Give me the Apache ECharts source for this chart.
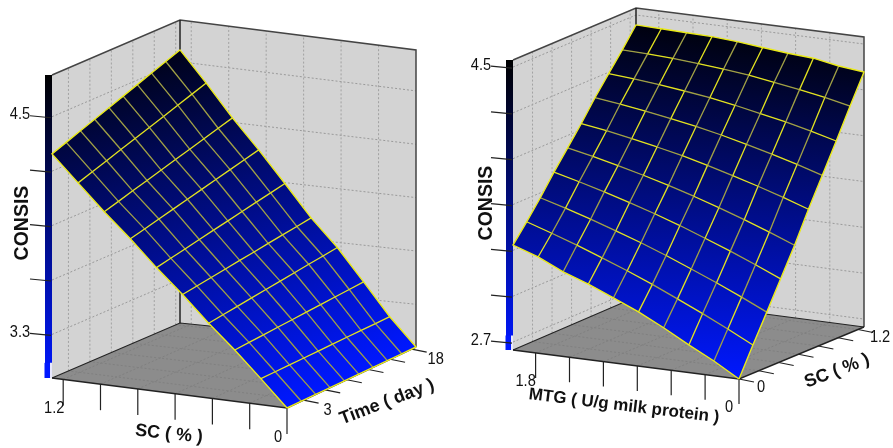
<!DOCTYPE html>
<html>
<head>
<meta charset="utf-8">
<style>html,body{margin:0;padding:0;background:#fff}#c{width:893px;height:448px}</style>
<script src="https://cdn.jsdelivr.net/npm/echarts@6/dist/echarts.min.js"></script>
</head>
<body>
<div id="c"></div>
<script>
// ---- data ----
const scGrid   = [0,0.14,0.28,0.42,0.56,0.70,0.84,0.98,1.12,1.26];
const timeGrid = [0.7,2.69,4.68,6.67,8.66,10.65,12.63,14.62,16.61,18.6];
const mtgGrid  = [0,0.222,0.444,0.667,0.889,1.111,1.333,1.556,1.778,2.0];

// CONSIS, left panel: one row per SC grid value, one column per Time grid value
const consisLeft = [
 [3.06,3.06,3.06,3.06,3.06,3.06,3.06,3.06,3.06,3.06],
 [3.205,3.206,3.207,3.208,3.209,3.211,3.212,3.213,3.214,3.215],
 [3.345,3.351,3.356,3.362,3.367,3.373,3.378,3.384,3.389,3.395],
 [3.475,3.486,3.496,3.507,3.518,3.528,3.539,3.55,3.56,3.571],
 [3.615,3.627,3.638,3.65,3.662,3.673,3.685,3.697,3.708,3.72],
 [3.745,3.762,3.778,3.795,3.812,3.828,3.845,3.862,3.878,3.895],
 [3.885,3.905,3.925,3.945,3.965,3.985,4.005,4.025,4.045,4.065],
 [4.015,4.038,4.062,4.085,4.108,4.132,4.155,4.178,4.202,4.225],
 [4.155,4.182,4.209,4.237,4.264,4.291,4.318,4.346,4.373,4.4],
 [4.295,4.325,4.355,4.385,4.415,4.445,4.475,4.505,4.535,4.565]
];
// CONSIS, right panel: one row per SC grid value, one column per MTG grid value
const consisRight = [
 [2.648,2.745,2.829,2.92,3.003,3.074,3.143,3.202,3.278,3.335],
 [2.833,2.916,2.996,3.071,3.145,3.213,3.276,3.338,3.395,3.449],
 [3.01,3.087,3.16,3.229,3.296,3.358,3.415,3.47,3.521,3.568],
 [3.19,3.261,3.329,3.392,3.454,3.51,3.562,3.611,3.656,3.698],
 [3.372,3.437,3.497,3.554,3.608,3.658,3.703,3.745,3.784,3.818],
 [3.57,3.626,3.678,3.726,3.772,3.814,3.85,3.884,3.914,3.94],
 [3.754,3.804,3.85,3.893,3.933,3.968,3.998,4.026,4.051,4.071],
 [3.941,3.984,4.023,4.057,4.09,4.118,4.141,4.162,4.178,4.191],
 [4.132,4.167,4.197,4.224,4.249,4.268,4.283,4.296,4.304,4.309],
 [4.317,4.335,4.365,4.376,4.393,4.41,4.422,4.426,4.431,4.435]
];

const scTicks   = [0,0.2,0.4,0.6,0.8,1.0,1.2];
const timeTicks = [3,6,9,12,15,18];
const mtgTicks  = [0,0.3,0.6,0.9,1.2,1.5,1.8];
const zTicksLeft  = [3.3,3.6,3.9,4.2,4.5];
const zTicksRight = [2.7,3.0,3.3,3.6,3.9,4.2,4.5];
const zLabelsLeft  = ['3.3','','','','4.5'];
const zLabelsRight = ['2.7','','','','','','4.5'];
const scLabels   = {0:'0',1.2:'1.2'};
const timeLabels = {3:'3',18:'18'};
const mtgLabels  = {0:'0',1.8:'1.8'};

// ---- panel geometry ----
const YEL='#e2e21e', OLV='#a0a044';
const panels = [
 { // a = SC, b = Time
  L:[52,378],B:[180,323],R:[416,347],F:[287,408],
  hL:303,hB:303,hR:297,hF:300,
  aMin:0,aMax:1.26,bMin:0.7,bMax:18.6,zMin:3.06,zMax:4.73,
  aGrid:scGrid,bGrid:timeGrid,at:(i,j)=>consisLeft[i][j],
  aTicks:scTicks,bTicks:timeTicks,zTicks:zTicksLeft,zLabels:zLabelsLeft,
  aLabels:scLabels,bLabels:timeLabels,
  aTick:26,aOff:[-9,29],bOff:[24,10],
  lineA:()=>OLV,lineB:()=>YEL,
  titles:[
   {t:'CONSIS',x:23,y:223,r:90,s:19.5},
   {t:'SC ( % )',x:169,y:434,r:-6,s:18},
   {t:'Time ( day )',x:387,y:402,r:21,s:18}
  ]
 },
 { // a = MTG, b = SC
  L:[513,350],B:[636,297],R:[864,327],F:[739,379],
  hL:290,hB:289,hR:290,hF:290,
  aMin:0,aMax:2.0,bMin:0,bMax:1.26,zMin:2.648,zMax:4.546,
  aGrid:mtgGrid,bGrid:scGrid,at:(i,j)=>consisRight[j][i],
  aTicks:mtgTicks,bTicks:scTicks,zTicks:zTicksRight,zLabels:zLabelsRight,
  aLabels:mtgLabels,bLabels:scLabels,
  aTick:25,aOff:[-10,28],bOff:[22,8],
  lineA:(i,j)=>((i+j)%2?YEL:OLV),lineB:(i,j)=>((i+j)%2?OLV:YEL),
  titles:[
   {t:'CONSIS',x:487,y:203,r:90,s:19.5},
   {t:'MTG ( U/g milk protein )',x:624,y:406,r:-7,s:17},
   {t:'SC ( % )',x:837,y:371,r:21,s:18}
  ]
 }
];

const ramp = ['#0018ff','#000000'];
const TICK = '#222';
const TICKFONT = '17px "Liberation Sans",Arial,sans-serif';

function proj(p,u,v,f){
  const w=[(1-u)*(1-v),u*(1-v),(1-u)*v,u*v];
  const x=w[0]*p.F[0]+w[1]*p.L[0]+w[2]*p.R[0]+w[3]*p.B[0];
  const y=w[0]*p.F[1]+w[1]*p.L[1]+w[2]*p.R[1]+w[3]*p.B[1];
  const h=w[0]*p.hF+w[1]*p.hL+w[2]*p.hR+w[3]*p.hB;
  return [x,y-h*f];
}
const U=(p,a)=>(a-p.aMin)/(p.aMax-p.aMin);
const V=(p,b)=>(b-p.bMin)/(p.bMax-p.bMin);
const Fz=(p,z)=>(z-p.zMin)/(p.zMax-p.zMin);
const line=(pts,stroke,lw,dash)=>({type:'polyline',silent:true,shape:{points:pts},
  style:{stroke,fill:null,lineWidth:lw,lineDash:dash||null}});
const poly=(pts,fill,stroke,lw)=>({type:'polygon',silent:true,shape:{points:pts},
  style:{fill,stroke:stroke||null,lineWidth:lw||0}});
const text=(str,x,y,font,rot,sx)=>({type:'text',silent:true,x,y,rotation:(rot||0)*Math.PI/180,scaleX:sx||1,
  style:{text:str,font,fill:'#111',textAlign:'center',textVerticalAlign:'middle'}});

function layer(fn){
  return {type:'custom',coordinateSystem:'cartesian2d',clip:false,silent:true,animation:false,
    data:[[0,0]],encode:{x:0,y:1},renderItem:(params,api)=>({type:'group',children:fn(api)})};
}

function frame(p){
  return api=>{
    const C=(u,v,f)=>api.coord(proj(p,u,v,f));
    const out=[];
    out.push(poly([C(1,0,0),C(1,0,1),C(1,1,1),C(1,1,0)],'#d3d3d3'));
    out.push(poly([C(1,1,0),C(1,1,1),C(0,1,1),C(0,1,0)],'#d3d3d3'));
    out.push(poly([C(0,0,0),C(1,0,0),C(1,1,0),C(0,1,0)],'#8c8c8c'));
    const dash=[2,2];
    p.zTicks.forEach(z=>{const f=Fz(p,z);
      out.push(line([C(1,0,f),C(1,1,f),C(0,1,f)],'#9a9a9a',1,dash));});
    p.bTicks.forEach(b=>{const v=V(p,b); if(v<=0.001)return;
      out.push(line([C(1,v,0),C(1,v,1)],'#a2a2a2',1,dash));
      out.push(line([C(0,v,0),C(1,v,0)],'#808080',1,dash));});
    p.aTicks.forEach(a=>{const u=U(p,a); if(u<=0.001)return;
      out.push(line([C(u,1,0),C(u,1,1)],'#a2a2a2',1,dash));
      out.push(line([C(u,0,0),C(u,1,0)],'#808080',1,dash));});
    out.push(line([C(1,0,1),C(1,1,1),C(0,1,1),C(0,1,0)],'#444',1.5));
    out.push(line([C(1,1,0),C(1,1,1)],'#222',1.5));
    out.push(line([C(1,0,0),C(1,1,0),C(0,1,0)],'#222',1.2));
    out.push(line([C(1,0,0),C(0,0,0),C(0,1,0)],'#222',1.4));
    const t=C(1,0,1), b=C(1,0,0);
    out.push({type:'rect',silent:true,shape:{x:t[0]-7,y:t[1],width:7,height:b[1]-t[1]},
      style:{fill:new echarts.graphic.LinearGradient(0,0,0,1,[{offset:0,color:ramp[1]},{offset:1,color:ramp[0]}])}});
    const q=C(1,0,0.05);
    out.push({type:'rect',silent:true,shape:{x:b[0]-7.5,y:q[1],width:5.5,height:b[1]-q[1]},style:{fill:ramp[0]}});
    out.push({type:'rect',silent:true,shape:{x:b[0]-2,y:q[1],width:2,height:b[1]-q[1]},style:{fill:'#e8e8ff'}});
    p.zTicks.forEach((z,k)=>{const c=C(1,0,Fz(p,z));
      out.push(line([[c[0]-22,c[1]-1],[c[0]-1,c[1]+1]],TICK,1.2));
      if(p.zLabels[k]) out.push(text(p.zLabels[k],c[0]-32,c[1]-2,TICKFONT,0,0.86));});
    p.aTicks.forEach(a=>{const c=C(U(p,a),0,0);
      out.push(line([c,[c[0],c[1]+p.aTick]],TICK,1.2));
      const s=p.aLabels[a]; if(s) out.push(text(s,c[0]+p.aOff[0],c[1]+p.aOff[1],TICKFONT,0,0.86));});
    p.bTicks.forEach(b=>{const c=C(0,V(p,b),0);
      out.push(line([c,[c[0]+15,c[1]+3]],TICK,1.2));
      const s=p.bLabels[b]; if(s) out.push(text(s,c[0]+p.bOff[0],c[1]+p.bOff[1],TICKFONT,0,0.86));});
    p.titles.forEach(t=>out.push(text(t.t,t.x,t.y,'bold '+t.s+'px "Liberation Sans",Arial,sans-serif',t.r)));
    return out;
  };
}

function surface(p){
  const n=p.aGrid.length-1, m=p.bGrid.length-1;
  const cells=[];
  for(let i=n-1;i>=0;i--)for(let j=m-1;j>=0;j--)cells.push([i,j]);
  const colorOf=z=>echarts.color.lerp(Math.min(1,Math.max(0,Fz(p,z))),ramp);
  return {type:'custom',coordinateSystem:'cartesian2d',clip:false,silent:true,animation:false,
    data:cells,encode:{x:0,y:1},
    renderItem:(params,api)=>{
      const i=api.value(0), j=api.value(1);
      const corner=(a,b)=>{const z=p.at(a,b);
        return {z,xy:api.coord(proj(p,U(p,p.aGrid[a]),V(p,p.bGrid[b]),Fz(p,z)))};};
      const P=[corner(i,j),corner(i+1,j),corner(i+1,j+1),corner(i,j+1)];
      // colour follows CONSIS: the gradient runs along the steepest screen direction of the cell
      const dx1=P[1].xy[0]-P[0].xy[0],dy1=P[1].xy[1]-P[0].xy[1],dz1=P[1].z-P[0].z;
      const dx2=P[3].xy[0]-P[0].xy[0],dy2=P[3].xy[1]-P[0].xy[1],dz2=P[3].z-P[0].z;
      const det=dx1*dy2-dx2*dy1;
      const ga=(dz1*dy2-dz2*dy1)/det, gb=(dx1*dz2-dx2*dz1)/det, g2=ga*ga+gb*gb;
      const zs=P.map(o=>o.z), hi=Math.max(...zs), lo=Math.min(...zs);
      const at=z=>[P[0].xy[0]+ga*(z-P[0].z)/g2,P[0].xy[1]+gb*(z-P[0].z)/g2];
      const A=at(hi),B=at(lo);
      const fill=new echarts.graphic.LinearGradient(A[0],A[1],B[0],B[1],
        [{offset:0,color:colorOf(hi)},{offset:1,color:colorOf(lo)}],true);
      return poly(P.map(o=>o.xy),fill);
    }};
}

function mesh(p){
  return api=>{
    const n=p.aGrid.length, m=p.bGrid.length, out=[];
    const C=(i,j)=>api.coord(proj(p,U(p,p.aGrid[i]),V(p,p.bGrid[j]),Fz(p,p.at(i,j))));
    for(let j=1;j<m-1;j++)for(let i=0;i<n-1;i++) out.push(line([C(i,j),C(i+1,j)],p.lineA(i,j),1.3));
    for(let i=1;i<n-1;i++)for(let j=0;j<m-1;j++) out.push(line([C(i,j),C(i,j+1)],p.lineB(i,j),1.3));
    const edge=[];
    for(let i=0;i<n;i++)edge.push(C(i,0));
    for(let j=1;j<m;j++)edge.push(C(n-1,j));
    for(let i=n-2;i>=0;i--)edge.push(C(i,m-1));
    for(let j=m-2;j>=0;j--)edge.push(C(0,j));
    out.push(line(edge,'#eaea18',1.4));
    return out;
  };
}

const series=[];
panels.forEach(p=>{ series.push(layer(frame(p)),surface(p),layer(mesh(p))); });

const chart=echarts.init(document.getElementById('c'),null,{renderer:'canvas',width:893,height:448});
chart.setOption({
  animation:false,backgroundColor:'#fff',
  grid:{left:0,top:0,width:893,height:448,containLabel:false},
  xAxis:{type:'value',min:0,max:893,show:false},
  yAxis:{type:'value',min:0,max:448,inverse:true,show:false},
  series
});
</script>
</body>
</html>
